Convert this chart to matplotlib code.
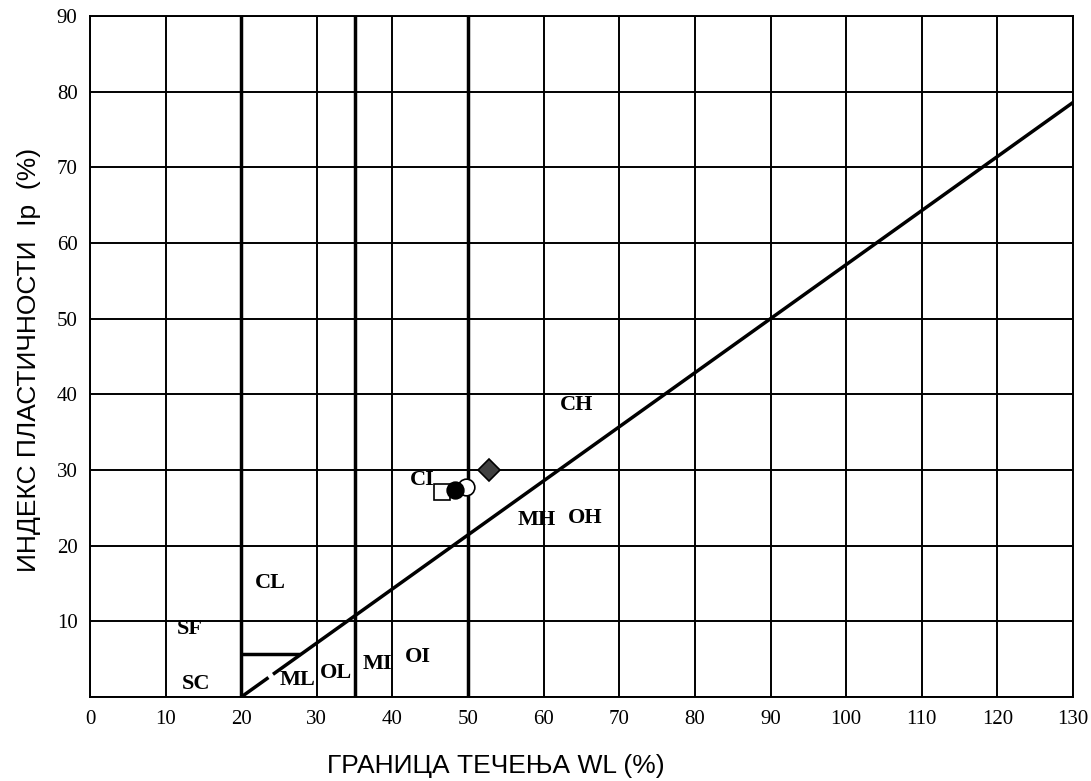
import matplotlib
matplotlib.use("Agg")
import matplotlib.pyplot as plt
import numpy as np

# Plasticity chart data
x_ticks = list(range(0, 131, 10))
y_ticks = list(range(10, 91, 10))
boundary_wl = [20, 35, 50]
a_line_slope = 5 / 7          # Ip = slope * (WL - 20)
a_line_start = 20
ml_cap_ip = 5.7
ml_cap_wl_end = 27.8

# samples, listed in drawing order
samples_wl = [46.6, 49.7, 48.3, 52.8]
samples_ip = [27.1, 27.7, 27.4, 30.0]
samples_marker = ["s", "o", "o", "D"]
samples_face = ["white", "white", "black", "#404040"]
samples_size = [11, 12, 12, 11]

zone_names = ["CH", "MH", "OH", "CI", "CL", "SF", "SC", "ML", "OL", "MI", "OI"]
zone_wl = [64.4, 59.1, 65.5, 44.0, 23.8, 13.2, 14.0, 27.4, 32.5, 38.0, 43.4]
zone_ip = [38.6, 23.4, 23.6, 28.7, 15.1, 9.0, 1.7, 2.2, 3.2, 4.4, 5.3]

W, H = 1091, 781
fig = plt.figure(figsize=(W / 100, H / 100), dpi=100)
ax = fig.add_axes([90 / W, 84 / H, 983 / W, 681 / H])
ax.set_xlim(0, 130)
ax.set_ylim(0, 90)

thin = 1.4
thick = 2.5

# grid
for xv in x_ticks:
    ax.axvline(xv, color="black", lw=thin, zorder=1)
for yv in range(0, 91, 10):
    ax.axhline(yv, color="black", lw=thin, zorder=1)

# boundary lines
for xv in boundary_wl:
    ax.plot([xv, xv], [0, 90], color="black", lw=thick, zorder=2, solid_capstyle="butt")

# A-line with a short break near its start
xa1 = np.array([a_line_start, 23.6])
xa2 = np.array([24.2, 130])
ax.plot(xa1, a_line_slope * (xa1 - a_line_start), color="black", lw=thick, zorder=2,
        solid_capstyle="butt")
ax.plot(xa2, a_line_slope * (xa2 - a_line_start), color="black", lw=thick, zorder=2,
        solid_capstyle="butt")
ax.plot([a_line_start, ml_cap_wl_end], [ml_cap_ip, ml_cap_ip], color="black", lw=thick,
        zorder=2, solid_capstyle="butt")

# samples
for i, (wl, ip, m, fc, ms) in enumerate(zip(samples_wl, samples_ip, samples_marker,
                                             samples_face, samples_size)):
    ax.plot(wl, ip, marker=m, ms=ms, mfc=fc, mec="black", mew=1.2, ls="none",
            zorder=4 + i * 0.1)

# zone labels
for name, wl, ip in zip(zone_names, zone_wl, zone_ip):
    ax.text(wl, ip, name, ha="center", va="center", fontsize=16, fontweight="bold",
            family="Liberation Serif", zorder=5)

ax.set_xticks(x_ticks)
ax.set_yticks(y_ticks)
ax.tick_params(length=0, pad=9, labelsize=15)
for lbl in ax.get_xticklabels() + ax.get_yticklabels():
    lbl.set_family("Liberation Serif")
for sp in ax.spines.values():
    sp.set_linewidth(thin)

fig.text(496 / W, 1 - 773 / H, "ГРАНИЦА ТЕЧЕЊА WL (%)", family="Liberation Sans",
         fontsize=19, ha="center", va="baseline")
fig.text(29 / W, 1 - 360 / H, "ИНДЕКС ПЛАСТИЧНОСТИ  Ip  (%)", family="Liberation Sans",
         fontsize=19, ha="center", va="center", rotation=90)

fig.savefig("out.png", dpi=100)
